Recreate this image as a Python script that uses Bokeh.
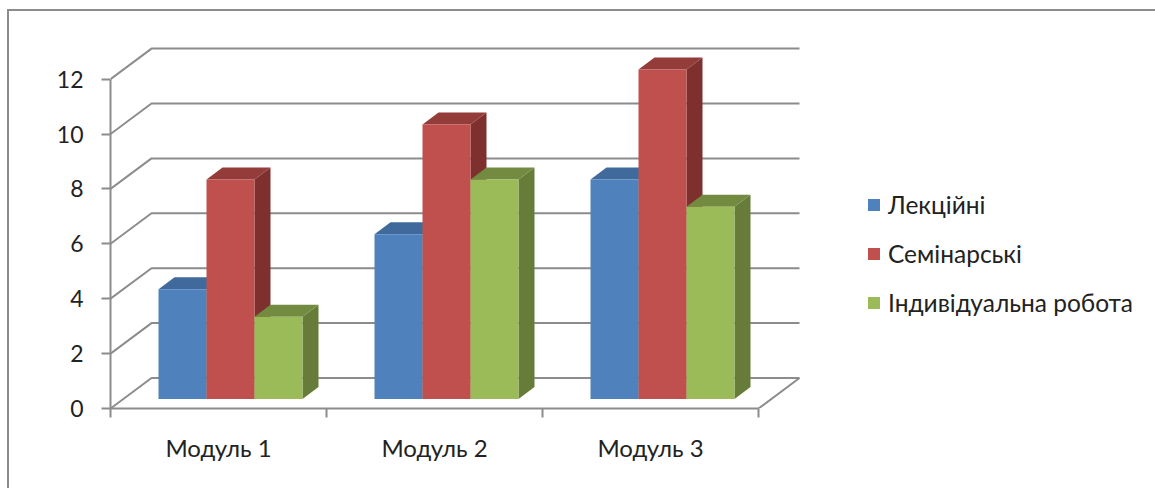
from bokeh.embed import file_html
from bokeh.resources import INLINE
from bokeh.plotting import figure
from bokeh.models import FixedTicker, Legend, LegendItem, InlineStyleSheet, Range1d

# ---- data
modules = ["Модуль 1", "Модуль 2", "Модуль 3"]
lectures = [4, 6, 8]
seminars = [8, 10, 12]
individual = [3, 8, 7]
y_ticks = [0, 2, 4, 6, 8, 10, 12]
series_names = ["Лекційні", "Семінарські", "Індивідуальна робота"]

# ---- pixel geometry
PAGE_W, PAGE_H = 1155, 488
AX_L, AX_B, FR_T = 110, 408, 30
PX_X, PX_Y = 216.0, 27.45              # px per data unit
FONT = "Lato"
GRID = "#8c8c8c"

# chart frame: only its top and left edges fall inside the picture
frame_css = InlineStyleSheet(css=""":host::before {
  content: ""; position: absolute; left: 7px; top: 9px; right: 0; bottom: 0; z-index: 5;
  border-top: 2.5px solid #8c8c8c; border-left: 2.5px solid #8c8c8c; pointer-events: none;
}""")

p = figure(width=PAGE_W, height=PAGE_H, output_backend="svg", toolbar_location=None, tools="",
           min_border_left=AX_L, min_border_right=0, min_border_top=FR_T, min_border_bottom=PAGE_H - AX_B,
           x_range=Range1d(0, (PAGE_W - AX_L) / PX_X), y_range=Range1d(0, (AX_B - FR_T) / PX_Y),
           outline_line_color=None, background_fill_color=None, border_fill_color="white",
           stylesheets=[frame_css])
p.grid.visible = False

# depth offsets expressed in data units
wall_dx, wall_dy = 41 / PX_X, 30.5 / PX_Y
bar_dx, bar_dy = 16 / PX_X, 12 / PX_Y
base_dy = 9.5 / PX_Y
n = len(modules)
bar_w = 48 / PX_X

# walls & floor
wx, wy = [], []
for t in y_ticks:
    wx.append([0, wall_dx, n + wall_dx])
    wy.append([t, t + wall_dy, t + wall_dy])
wx.append([n, n + wall_dx])
wy.append([0, wall_dy])
p.multi_line(wx, wy, line_color=GRID, line_width=2)

# bars
styles = [("#4F81BD", "#3A6291", "#406A9B"),
          ("#C0504D", "#7D302E", "#933C3A"),
          ("#9BBB59", "#667C38", "#728B41")]
items = []
for s, (vals, (front, side, top)) in enumerate(zip([lectures, seminars, individual], styles)):
    lefts = [i + bar_w * (s + 1) for i in range(n)]
    rights = [l + bar_w for l in lefts]
    tops = [v + base_dy for v in vals]
    p.patches([[r, r + bar_dx, r + bar_dx, r] for r in rights],
              [[base_dy, base_dy + bar_dy, t + bar_dy, t] for t in tops],
              fill_color=side, line_color=None)
    p.patches([[l, l + bar_dx, r + bar_dx, r] for l, r in zip(lefts, rights)],
              [[t, t + bar_dy, t + bar_dy, t] for t in tops],
              fill_color=top, line_color=None)
    q = p.quad(left=lefts, right=rights, bottom=[base_dy] * n, top=tops, fill_color=front, line_color=None)
    items.append(LegendItem(label=series_names[s], renderers=[q]))

# axes
xa = p.xaxis[0]
xa.ticker = FixedTicker(ticks=[i + 0.5 for i in range(n)], minor_ticks=list(range(n + 1)))
xa.major_label_overrides = {i + 0.5: m for i, m in enumerate(modules)}
xa.bounds = (0, n)
xa.major_tick_line_color = None
xa.major_tick_out = 0
xa.minor_tick_out = 9
xa.minor_tick_in = 0
xa.minor_tick_line_color = GRID
xa.minor_tick_line_width = 2
xa.axis_line_color = GRID
xa.axis_line_width = 2
xa.major_label_standoff = 15
xa.major_label_text_font = FONT
xa.major_label_text_font_size = "24px"
xa.major_label_text_color = "#222222"

ya = p.yaxis[0]
ya.ticker = FixedTicker(ticks=y_ticks)
ya.bounds = (0, max(y_ticks))
ya.major_tick_out = 9
ya.major_tick_in = 0
ya.minor_tick_line_color = None
ya.major_tick_line_color = GRID
ya.major_tick_line_width = 2
ya.axis_line_color = GRID
ya.axis_line_width = 2
ya.major_label_standoff = 18
ya.major_label_text_font = FONT
ya.major_label_text_font_size = "23px"
ya.major_label_text_color = "#222222"

# legend
legend = Legend(items=items, location=(756, 91), orientation="vertical",
                glyph_width=15, glyph_height=15, label_standoff=7, spacing=20, padding=0, margin=0,
                border_line_color=None, background_fill_alpha=0,
                label_text_font=FONT, label_text_font_size="24.5px", label_text_color="#222222")
p.add_layout(legend, "center")

open("out.html", "w").write(file_html(p, INLINE))
